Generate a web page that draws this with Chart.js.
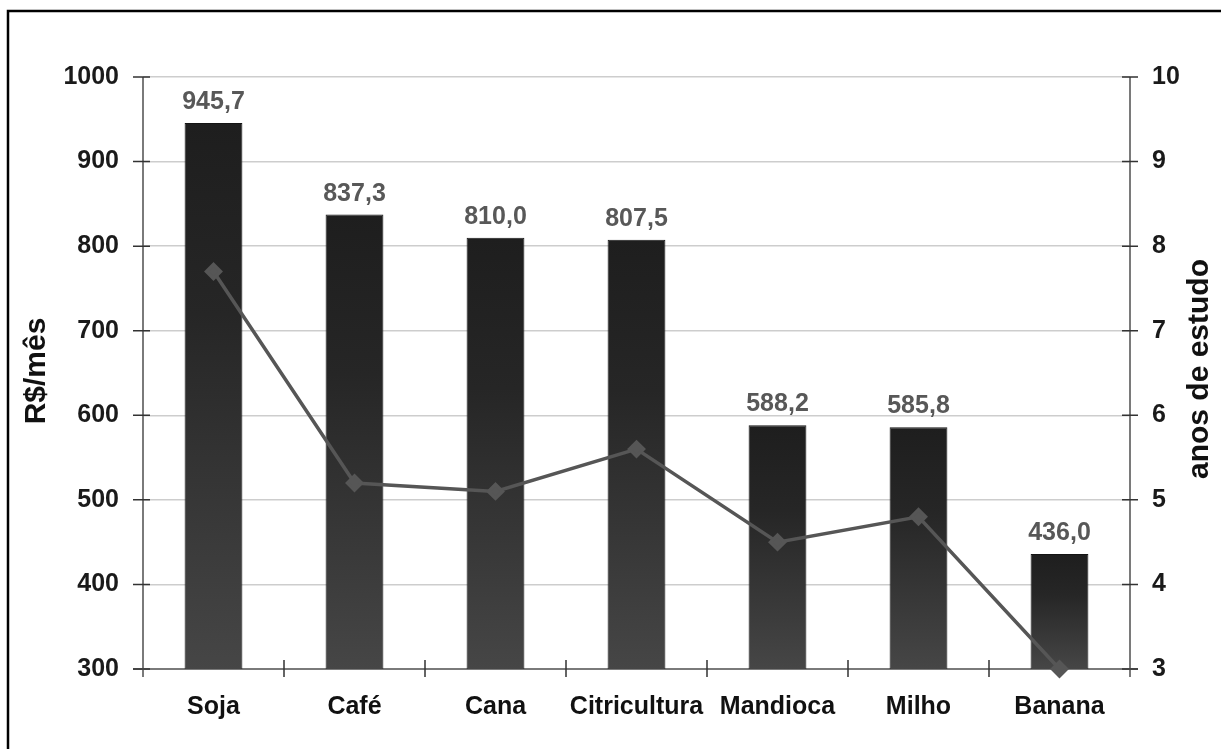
<!DOCTYPE html>
<html>
<head>
<meta charset="utf-8">
<script src="https://cdn.jsdelivr.net/npm/chart.js@4.4.1/dist/chart.umd.min.js"></script>
<style>
  html, body { margin: 0; padding: 0; background: #fff; }
  canvas { display: block; }
</style>
</head>
<body>
<canvas id="chart" width="1221" height="749"></canvas>
<script>
// Renda média mensal (R$/mês) e escolaridade (anos de estudo) por cultura
const culturas = ['Soja', 'Café', 'Cana', 'Citricultura', 'Mandioca', 'Milho', 'Banana'];
const rendaMensal = [945.7, 837.3, 810.0, 807.5, 588.2, 585.8, 436.0];
const anosEstudo = [7.7, 5.2, 5.1, 5.6, 4.5, 4.8, 3.0];
const ticksRenda = [300, 400, 500, 600, 700, 800, 900, 1000];
const ticksAnos = [3, 4, 5, 6, 7, 8, 9, 10];

const FONT = '"Liberation Sans", Arial, sans-serif';
const AXIS_COLOR = '#7a7a7a';

// vertical gradient per bar: dark at the top, lighter at the base
function barGradient(ctx) {
  const chart = ctx.chart;
  const y = chart.scales.y;
  if (!chart.chartArea || !y || ctx.raw === undefined) return '#2e2e2e';
  const top = y.getPixelForValue(ctx.raw);
  const base = y.getPixelForValue(y.min);
  if (!isFinite(top) || !isFinite(base) || base === top) return '#2e2e2e';
  const g = chart.ctx.createLinearGradient(0, top, 0, base);
  g.addColorStop(0, '#1e1e1e');
  g.addColorStop(0.35, '#262626');
  g.addColorStop(1, '#464646');
  return g;
}

// page frame, axis lines and cross tick marks
const axesPlugin = {
  id: 'axes',
  beforeDraw(chart) {
    const c = chart.ctx;
    c.save();
    c.strokeStyle = '#000';
    c.lineWidth = 2.5;
    c.beginPath();
    c.moveTo(8, 749);
    c.lineTo(8, 11);
    c.lineTo(1221, 11);
    c.stroke();
    c.restore();
  },
  beforeDatasetsDraw(chart) {
    const c = chart.ctx;
    const a = chart.chartArea;
    const x = chart.scales.x, y = chart.scales.y, y1 = chart.scales.y1;
    c.save();
    c.strokeStyle = AXIS_COLOR;
    c.lineWidth = 2;
    c.beginPath();
    // left and right axes
    c.moveTo(a.left, a.top); c.lineTo(a.left, a.bottom + 8);
    c.moveTo(a.right, a.top); c.lineTo(a.right, a.bottom + 8);
    // category axis
    c.moveTo(a.left - 10, a.bottom); c.lineTo(a.right + 8, a.bottom);
    c.stroke();
    c.lineWidth = 1.5;
    c.strokeStyle = '#333';
    c.beginPath();
    ticksRenda.forEach(v => {
      const py = y.getPixelForValue(v);
      c.moveTo(a.left - 10, py); c.lineTo(a.left + 7, py);
    });
    ticksAnos.forEach(v => {
      const py = y1.getPixelForValue(v);
      c.moveTo(a.right - 8, py); c.lineTo(a.right + 8, py);
    });
    const step = (a.right - a.left) / culturas.length;
    for (let i = 1; i < culturas.length; i++) {
      const px = x.getPixelForValue(i) - step / 2;
      c.moveTo(px, a.bottom - 9); c.lineTo(px, a.bottom + 8);
    }
    c.stroke();
    c.restore();
  },
  afterDatasetsDraw(chart) {
    // value labels above bars
    const c = chart.ctx;
    const meta = chart.getDatasetMeta(1);
    c.save();
    c.font = 'bold 25px ' + FONT;
    c.fillStyle = '#585858';
    c.textAlign = 'center';
    c.textBaseline = 'alphabetic';
    meta.data.forEach((bar, i) => {
      c.fillText(rendaMensal[i].toFixed(1).replace('.', ','), bar.x, bar.y - 14);
    });
    c.restore();
  },
  afterDraw(chart) {
    // axis titles, both read bottom to top
    const c = chart.ctx;
    c.save();
    c.font = 'bold 30px ' + FONT;
    c.fillStyle = '#111';
    c.textAlign = 'center';
    c.textBaseline = 'middle';
    c.translate(37, 371);
    c.rotate(-Math.PI / 2);
    c.fillText('R$/mês', 0, 0);
    c.restore();
    c.save();
    c.font = 'bold 30px ' + FONT;
    c.fillStyle = '#111';
    c.textAlign = 'center';
    c.textBaseline = 'middle';
    c.translate(1200, 369);
    c.rotate(-Math.PI / 2);
    c.fillText('anos de estudo', 0, 0);
    c.restore();
  }
};

new Chart(document.getElementById('chart'), {
  type: 'bar',
  data: {
    labels: culturas,
    datasets: [
      {
        type: 'line',
        label: 'anos de estudo',
        data: anosEstudo,
        yAxisID: 'y1',
        order: 0,
        clip: false,
        borderColor: '#565656',
        borderWidth: 3.5,
        pointStyle: 'rectRot',
        pointRadius: 7,
        pointBackgroundColor: '#565656',
        pointBorderColor: '#565656',
        tension: 0
      },
      {
        type: 'bar',
        label: 'R$/mês',
        data: rendaMensal,
        yAxisID: 'y',
        order: 1,
        backgroundColor: barGradient,
        borderColor: '#141414',
        borderWidth: 1,
        borderSkipped: false,
        barPercentage: 0.41,
        categoryPercentage: 1
      }
    ]
  },
  options: {
    responsive: false,
    animation: false,
    layout: { padding: { top: 77, left: 0, right: 0, bottom: 0 } },
    plugins: { legend: { display: false }, tooltip: { enabled: false } },
    scales: {
      x: {
        offset: true,
        grid: { display: false, drawTicks: false },
        border: { display: false },
        ticks: {
          padding: 23,
          color: '#111',
          font: { family: FONT, size: 25, weight: 'bold' },
          maxRotation: 0,
          autoSkip: false
        },
        afterFit(s) { s.height = 80; }
      },
      y: {
        position: 'left',
        min: 300,
        max: 1000,
        afterBuildTicks(s) { s.ticks = ticksRenda.map(v => ({ value: v })); },
        grid: {
          drawTicks: false,
          lineWidth: 1.5,
          color: ctx => (ctx.tick && ctx.tick.value === 300 ? 'rgba(0,0,0,0)' : '#cdcdcd')
        },
        border: { display: false },
        ticks: {
          padding: 24,
          color: '#1a1a1a',
          font: { family: FONT, size: 25, weight: 'bold' },
          callback: v => String(v)
        },
        afterFit(s) { s.width = 143; }
      },
      y1: {
        position: 'right',
        min: 3,
        max: 10,
        afterBuildTicks(s) { s.ticks = ticksAnos.map(v => ({ value: v })); },
        grid: { display: false, drawTicks: false },
        border: { display: false },
        ticks: {
          padding: 22,
          color: '#1a1a1a',
          font: { family: FONT, size: 25, weight: 'bold' },
          callback: v => String(v)
        },
        afterFit(s) { s.width = 91; }
      }
    }
  },
  plugins: [axesPlugin]
});
</script>
</body>
</html>
